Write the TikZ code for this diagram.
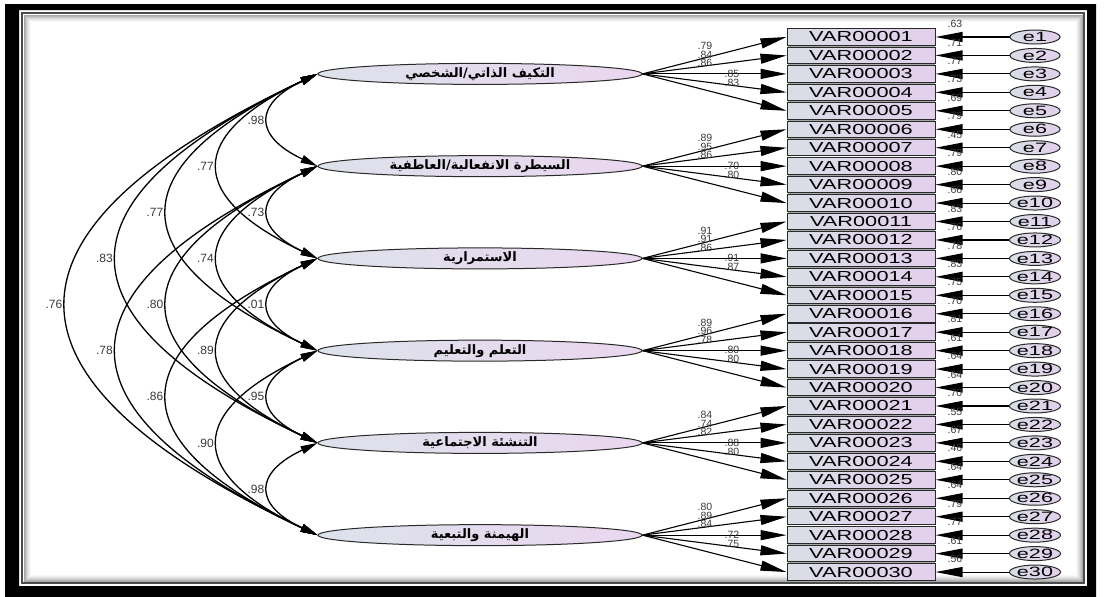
\documentclass[tikz,border=0pt]{standalone}
\usepackage{fontspec}
\setmainfont{Liberation Sans}
\newfontfamily\arabicfont[Script=Arabic]{DejaVu Sans}
\TeXXeTstate=1
\usetikzlibrary{arrows.meta,shapes.geometric}
\definecolor{latleft}{HTML}{DDE2EB}
\definecolor{latright}{HTML}{EAD6EF}
\definecolor{obsleft}{HTML}{D9DEE6}
\definecolor{obsright}{HTML}{E3CFEC}
\definecolor{inkgray}{HTML}{2A2A2A}
\definecolor{labgray}{HTML}{3A3A3A}
\tikzset{
  factor/.style={ellipse, draw=inkgray, line width=1pt, left color=latleft, right color=latright,
    minimum width=324pt, minimum height=21pt, inner sep=0pt, font=\fontsize{13}{13}\selectfont},
  obsbox/.style={rectangle, draw=inkgray, line width=1pt, left color=obsleft, right color=obsright,
    minimum width=148pt, minimum height=16.5pt, inner sep=0pt},
  errnode/.style={ellipse, draw=inkgray, line width=1pt, left color=obsleft, right color=obsright,
    minimum width=50pt, minimum height=14pt, inner sep=0pt},
  loadarrow/.style={-{Triangle[length=26pt,width=10pt]}, line width=1.1pt, black},
  errarrow/.style={-{Triangle[length=27pt,width=10pt]}, line width=1.1pt, black},
  corrarc/.style={{Triangle[length=17pt,width=8pt]}-{Triangle[length=17pt,width=8pt]}, line width=1.3pt, black},
  numlab/.style={text=labgray, inner sep=0pt, font=\fontsize{10.5}{11}\selectfont},
  corrlab/.style={text=labgray, inner sep=0pt, font=\fontsize{12}{12}\selectfont},
}
\newcommand{\varlabel}[1]{\scalebox{1.5}[1]{\fontsize{14.5}{15}\selectfont #1}}
\newcommand{\errlabel}[1]{\scalebox{1.6}[1]{\fontsize{13.5}{14}\selectfont #1}}
\begin{document}
\begin{tikzpicture}[x=1pt,y=-1pt]
\useasboundingbox (0,0) rectangle (1104,597);
\fill[white] (0,0) rectangle (1104,597);

% picture frame: heavy black band, thin dark rule and an inner shadow
\fill[black, even odd rule] (5,4) rectangle (1096,597) (19,10) rectangle (1087,586);
\draw[black!70, line width=1.6pt] (22,13) rectangle (1084,583);
\foreach \s/\g in {1/35,2/28,3/21,4/15,5/10,6/6,7/3}{
  \draw[black!\g, line width=1pt] (23+\s,14+\s) rectangle (1083-\s,582-\s);
}

% observed variables and their error terms
\foreach \i [evaluate=\i as \y using 37+18.45*(\i-1)] in {1,...,30}{
  \draw[black!35, line width=1.2pt] (788,\y+9.4) -- (935,\y+9.4);
  \node[obsbox] (v\i) at (861,\y) {\varlabel{\ifnum\i<10 VAR0000\i\else VAR000\i\fi}};
  \node[errnode] (e\i) at (1035,\y) {\errlabel{e\i}};
  \draw[errarrow] (e\i.west) -- (v\i.east);
}

% error variances
\foreach \i/\val [evaluate=\i as \y using 37+18.45*(\i-1)-13] in
  {1/.63,2/.71,3/.77,4/.73,5/.69,6/.79,7/.45,8/.79,9/.80,10/.66,
   11/.83,12/.76,13/.78,14/.83,15/.75,16/.70,17/.81,18/.61,19/.64,20/.64,
   21/.70,22/.55,23/.67,24/.46,25/.64,26/.64,27/.79,28/.77,29/.61,30/.56}{
  \node[numlab] (r\i) at (955,\y) {\val};
}

% latent factors
\node[factor] (f1) at (480,{37+18.45*2})  {\arabicfont\bfseries\beginR التكيف الذاتي/الشخصي\endR};
\node[factor] (f2) at (480,{37+18.45*7})  {\arabicfont\bfseries\beginR السيطرة الانفعالية/العاطفية\endR};
\node[factor] (f3) at (480,{37+18.45*12}) {\arabicfont\bfseries\beginR الاستمرارية\endR};
\node[factor] (f4) at (480,{37+18.45*17}) {\arabicfont\bfseries\beginR التعلم والتعليم\endR};
\node[factor] (f5) at (480,{37+18.45*22}) {\arabicfont\bfseries\beginR التنشئة الاجتماعية\endR};
\node[factor] (f6) at (480,{37+18.45*27}) {\arabicfont\bfseries\beginR الهيمنة والتبعية\endR};

% factor loadings
\foreach \f/\la/\lb/\lc/\ld/\le in
  {1/.79/.84/.86/.85/.83, 2/.89/.95/.86/.70/.80, 3/.91/.91/.86/.91/.87,
   4/.89/.96/.78/.80/.80, 5/.84/.74/.82/.88/.80, 6/.80/.89/.84/.72/.75}{
  \pgfmathtruncatemacro{\base}{5*(\f-1)}
  \foreach \m in {1,...,5}{
    \pgfmathtruncatemacro{\v}{\base+\m}
    \draw[loadarrow] (f\f.east) -- (v\v.west);
  }
  \pgfmathsetmacro{\yf}{37+18.45*(5*\f-3)}
  \node[numlab] (l\f a) at (705,\yf-28) {\la};
  \node[numlab] (l\f b) at (705,\yf-19.5) {\lb};
  \node[numlab] (l\f c) at (705,\yf-11) {\lc};
  \node[numlab] (l\f d) at (732,\yf-0.5) {\ld};
  \node[numlab] (l\f e) at (732,\yf+8.5) {\le};
}

% correlations between factors
\foreach \i/\j/\val in
  {1/2/.98, 1/3/.77, 1/4/.77, 1/5/.83, 1/6/.76,
   2/3/.73, 2/4/.74, 2/5/.80, 2/6/.78,
   3/4/.01, 3/5/.89, 3/6/.86,
   4/5/.95, 4/6/.90,
   5/6/.98}{
  \pgfmathsetmacro{\k}{\j-\i}
  \pgfmathsetmacro{\a}{64+67.3*(\k-1)}
  \pgfmathsetmacro{\d}{0.47*\a}
  \pgfmathsetmacro{\lx}{270-50.5*(\k-1)-14}
  \pgfmathsetmacro{\ly}{37+18.45*(5*(\i+\j)/2-3)}
  \draw[corrarc] (f\i.west) .. controls +(-\a,\d) and +(-\a,-\d) .. (f\j.west);
  \node[corrlab] (c\i\j) at (\lx,\ly) {\val};
}
\end{tikzpicture}
\end{document}
